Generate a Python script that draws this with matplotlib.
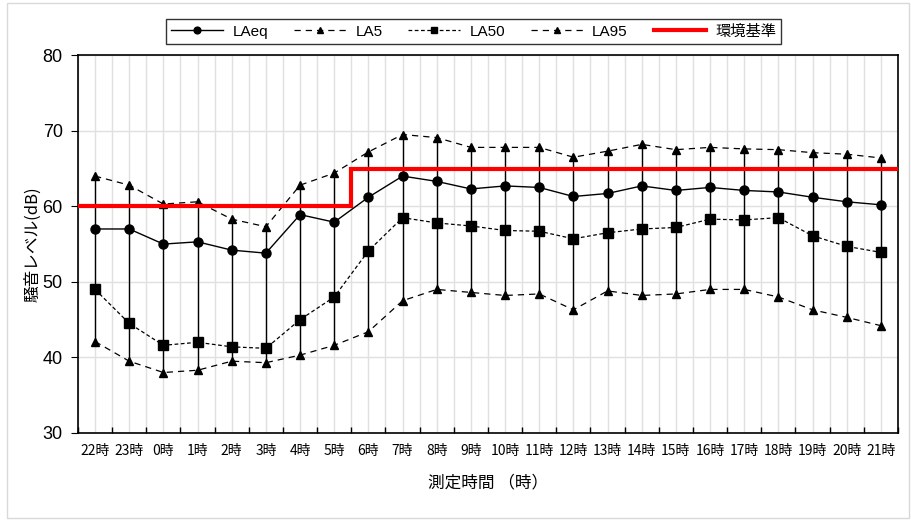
import matplotlib
matplotlib.use("Agg")
import matplotlib.pyplot as plt
import numpy as np
from matplotlib.patches import Rectangle

plt.rcParams['font.family'] = ['Noto Sans CJK JP', 'DejaVu Sans']

hours = ["22時", "23時", "0時", "1時", "2時", "3時", "4時", "5時", "6時", "7時", "8時", "9時",
         "10時", "11時", "12時", "13時", "14時", "15時", "16時", "17時", "18時", "19時", "20時", "21時"]
laeq = [57.0, 57.0, 55.0, 55.3, 54.2, 53.8, 58.9, 57.9, 61.2, 64.0, 63.3, 62.3,
        62.7, 62.5, 61.3, 61.7, 62.7, 62.1, 62.5, 62.1, 61.9, 61.2, 60.6, 60.2]
la5 = [64.0, 62.8, 60.3, 60.6, 58.3, 57.3, 62.8, 64.4, 67.2, 69.5, 69.1, 67.8,
       67.8, 67.8, 66.5, 67.3, 68.2, 67.5, 67.8, 67.6, 67.5, 67.1, 66.9, 66.4]
la50 = [49.0, 44.5, 41.6, 42.0, 41.4, 41.2, 45.0, 48.0, 54.1, 58.5, 57.8, 57.4,
        56.8, 56.7, 55.7, 56.5, 57.0, 57.2, 58.3, 58.2, 58.5, 56.1, 54.7, 53.9]
la95 = [42.1, 39.5, 38.0, 38.3, 39.5, 39.3, 40.3, 41.6, 43.4, 47.5, 49.0, 48.6,
        48.2, 48.4, 46.3, 48.8, 48.2, 48.4, 49.0, 49.0, 48.0, 46.3, 45.3, 44.2]
standard = [60] * 8 + [65] * 16

fig = plt.figure(figsize=(9.11, 5.21), dpi=100)
fig.patches.append(Rectangle((0.008, 0.005), 0.99, 0.99, transform=fig.transFigure,
                             fill=False, edgecolor='#d9d9d9', linewidth=1))
ax = fig.add_axes([0.0856, 0.169, 0.9001, 0.725])

x = np.arange(len(hours))
ax.vlines(x, la95, la5, colors='black', linewidth=1, zorder=2)
ax.plot(x, laeq, '-', color='black', marker='o', markersize=6.5, linewidth=1, label='LAeq', zorder=3)
ax.plot(x, la5, color='black', linestyle=(0, (5, 4)), marker='^', markersize=6, linewidth=0.9, label='LA5', zorder=3)
ax.plot(x, la50, color='black', linestyle=(0, (3, 2)), marker='s', markersize=6.5, linewidth=0.9, label='LA50', zorder=3)
ax.plot(x, la95, color='black', linestyle=(0, (5, 4)), marker='^', markersize=6, linewidth=0.9, label='LA95', zorder=3)
ax.stairs(standard, edges=np.arange(-0.5, len(hours) + 0.5), color='#ff0000', linewidth=3,
          baseline=None, label='環境基準', zorder=4)

ax.set_xlim(-0.5, len(hours) - 0.5)
ax.set_ylim(30, 80)
ax.set_yticks([30, 40, 50, 60, 70, 80])
ax.set_xticks(x)
ax.set_xticklabels(hours, fontsize=10)
ax.set_xticks(np.arange(-0.5, len(hours)), minor=True)
ax.tick_params(axis='x', which='major', length=0, pad=8)
ax.tick_params(axis='x', which='minor', direction='in', length=4, width=1)
ax.tick_params(axis='y', labelsize=13, length=5, direction='out', pad=6)
for lab in ax.get_yticklabels():
    lab.set_family(['Liberation Sans', 'DejaVu Sans'])
ax.grid(True, axis='y', color='#e0e0e0', linewidth=1)
ax.grid(True, axis='x', which='minor', color='#e0e0e0', linewidth=1)
ax.grid(True, axis='x', which='major', color='#e0e0e0', linewidth=1)
ax.set_axisbelow(True)
for s in ax.spines.values():
    s.set_linewidth(1.2)

ax.set_ylabel('騒音レベル(dB)', fontsize=12, labelpad=1)
ax.set_xlabel('測定時間 （時）', fontsize=12, labelpad=12)

leg = fig.legend(loc='center', bbox_to_anchor=(0.52, 0.939), ncol=5,
                 prop={'family': ['Liberation Sans', 'Noto Sans CJK JP'], 'size': 11},
                 frameon=True, fancybox=False, edgecolor='black', handlelength=3.4,
                 columnspacing=1.7, borderpad=0.35, handletextpad=0.6, markerscale=0.75)
leg.get_frame().set_linewidth(1)

fig.savefig('out.png', dpi=100)
